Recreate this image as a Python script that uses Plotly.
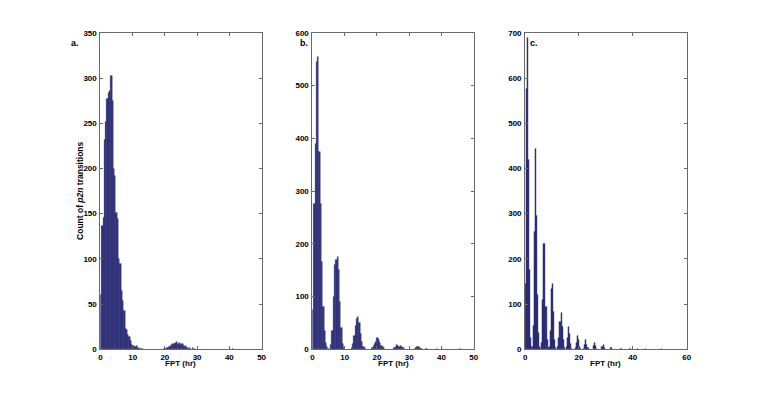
import plotly.graph_objects as go

# Bin width (hours) used by all three histograms
BIN_W = 0.4

# ---- Panel a: left bin edges (hr) and counts ----
a_edges = [0.0, 0.4, 0.8, 1.2, 1.6, 2.0, 2.4, 2.8, 3.2, 3.6, 4.0, 4.4, 4.8, 5.2, 5.6, 6.0,
           6.4, 6.8, 7.2, 7.6, 8.0, 8.4, 8.8, 9.2, 9.6, 10.0, 10.4, 10.8, 11.2, 11.6, 12.0,
           12.4, 12.8,
           19.6, 20.0, 20.4, 20.8, 21.2, 21.6, 22.0, 22.4, 22.8, 23.2, 23.6, 24.0, 24.4,
           24.8, 25.2, 25.6, 26.0, 26.4, 26.8, 27.2, 27.6, 28.4, 29.2, 40.8]
a_counts = [60, 137, 145, 232, 252, 277, 284, 286, 302, 275, 200, 192, 151, 144, 100, 94,
            65, 54, 43, 23, 22, 16, 14, 9, 5, 4, 3, 3, 4, 2, 1,
            1, 1,
            1, 1, 2, 2, 3, 4, 5, 6, 6, 7, 8, 6, 7,
            5, 6, 4, 3, 4, 2, 1, 2, 2, 1, 1]

# ---- Panel b ----
b_edges = [0.0, 0.4, 0.8, 1.2, 1.6, 2.0, 2.4, 2.8, 3.2, 3.6, 4.0, 4.4, 4.8,
           5.6, 6.0, 6.4, 6.8, 7.2, 7.6, 8.0, 8.4, 8.8, 9.2, 9.6,
           12.0, 12.4, 12.8, 13.2, 13.6, 14.0, 14.4, 14.8, 15.2, 15.6, 16.0,
           18.4, 18.8, 19.2, 19.6, 20.0, 20.4, 20.8, 21.2, 21.6, 22.0,
           25.2, 25.6, 26.0, 26.4, 26.8, 27.2, 27.6, 28.0,
           31.6, 32.0, 32.4, 32.8, 33.2, 33.6, 35.2, 38.4, 40.0, 45.6]
b_counts = [75, 275, 390, 545, 555, 375, 275, 165, 80, 35, 12, 4, 1,
            8, 35, 100, 160, 170, 176, 150, 90, 40, 10, 2,
            2, 10, 25, 45, 58, 62, 50, 30, 14, 5, 2,
            2, 6, 10, 15, 22, 18, 12, 7, 4, 2,
            2, 5, 8, 6, 4, 7, 4, 2,
            1, 3, 5, 4, 2, 1, 1, 1, 1, 1]

# ---- Panel c ----
c_edges = [0.0, 0.4, 0.8, 1.2, 1.6, 2.0, 2.4, 2.8, 3.2, 3.6, 4.0, 4.4, 4.8, 5.2,
           5.6, 6.0, 6.4, 6.8, 7.2, 7.6, 8.0, 8.4,
           8.8, 9.2, 9.6, 10.0, 10.4, 10.8, 11.2,
           12.0, 12.4, 12.8, 13.2, 13.6, 14.0, 14.4,
           15.2, 15.6, 16.0, 16.4, 16.8, 17.2,
           18.4, 18.8, 19.2, 19.6, 20.0, 20.4,
           21.6, 22.0, 22.4, 22.8, 23.2,
           25.2, 25.6, 26.0, 26.4,
           28.4, 28.8, 29.2,
           31.6, 32.0, 35.2, 35.6, 38.8, 41.6, 44.4, 50.4]
c_counts = [144, 577, 690, 420, 175, 25, 5, 52, 260, 444, 296, 121, 36, 5,
            2, 15, 110, 233, 233, 95, 20, 3,
            5, 41, 133, 144, 82, 20, 4,
            5, 25, 61, 81, 50, 20, 4,
            5, 25, 50, 35, 12, 2,
            3, 15, 30, 20, 6, 1,
            2, 10, 20, 10, 3,
            8, 15, 8, 2,
            5, 9, 4,
            4, 3, 2, 2, 2, 1, 2, 1]

x_ticks = [[0, 10, 20, 30, 40, 50], [0, 10, 20, 30, 40, 50], [0, 20, 40, 60]]
x_ranges = [[0, 50], [0, 50], [0, 60]]
y_ranges = [[0, 350], [0, 600], [0, 700]]
y_dticks = [50, 100, 100]
panel_labels = ["a.", "b.", "c."]

W, H = 763, 397
FONT = "Liberation Sans, Arial, Helvetica, sans-serif"
FILL = "#33378a"
EDGE = "#1b1c55"
AXC = "#6a6a6a"

# axis pixel boxes (left, right) and (top, bottom)
x_px = [(99.3, 262.0), (313.3, 476.0), (528.0, 691.0)]
y_px = (29.5, 353.3)

fig = go.Figure()
data = [(a_edges, a_counts), (b_edges, b_counts), (c_edges, c_counts)]
for i, (edges, counts) in enumerate(data):
    n = i + 1
    xa = "x" if n == 1 else f"x{n}"
    ya = "y" if n == 1 else f"y{n}"
    fig.add_trace(go.Bar(
        x=[e + BIN_W / 2 for e in edges], y=counts, width=BIN_W,
        marker=dict(color=FILL, line=dict(color=EDGE, width=0.4)),
        xaxis=xa, yaxis=ya, showlegend=False, hoverinfo="x+y"))

layout = dict(width=W, height=H, autosize=False,
              margin=dict(l=0, r=0, t=0, b=0),
              paper_bgcolor="white", plot_bgcolor="white",
              bargap=0, font=dict(family=FONT, size=8, color="black"))
ydom = [1 - y_px[1] / H, 1 - y_px[0] / H]
annotations = []
for i in range(3):
    n = i + 1
    xk = "xaxis" if n == 1 else f"xaxis{n}"
    yk = "yaxis" if n == 1 else f"yaxis{n}"
    xdom = [x_px[i][0] / W, x_px[i][1] / W]
    common = dict(showline=True, linecolor=AXC, linewidth=1, mirror="allticks",
                  ticks="inside", ticklen=3, tickcolor=AXC, tickwidth=1,
                  showgrid=False, zeroline=False, fixedrange=True,
                  tickfont=dict(family=FONT, size=8, color="black", weight="bold"))
    layout[xk] = dict(domain=xdom, range=x_ranges[i], tickvals=x_ticks[i],
                      anchor="y" if n == 1 else f"y{n}", ticklabelstandoff=0, **common)
    layout[yk] = dict(domain=ydom, range=y_ranges[i], dtick=y_dticks[i], tick0=0,
                      anchor="x" if n == 1 else f"x{n}", ticklabelstandoff=1, **common)
    annotations.append(dict(text="<b>FPT (hr)</b>", xref="paper", yref="paper",
                            x=(xdom[0] + xdom[1]) / 2, y=1 - 368 / H,
                            showarrow=False, font=dict(family=FONT, size=8),
                            xanchor="center", yanchor="middle"))

label_px = [(74, 40), (305, 40), (537, 40)]
for lab, (lx, ly) in zip(panel_labels, label_px):
    annotations.append(dict(text=f"<b>{lab}</b>", xref="paper", yref="paper",
                            x=lx / W, y=1 - ly / H, showarrow=False,
                            font=dict(family=FONT, size=9),
                            xanchor="center", yanchor="middle"))

annotations.append(dict(text="<b>Count of <i>p2n</i> transitions</b>", xref="paper",
                        yref="paper", x=78 / W, y=1 - 191 / H, textangle=-90,
                        showarrow=False, font=dict(family=FONT, size=8.5),
                        xanchor="center", yanchor="middle"))
layout["annotations"] = annotations
fig.update_layout(**layout)

reset_page = (
    "var d=document.documentElement,b=document.body;"
    "d.style.margin='0';d.style.padding='0';d.style.overflow='hidden';d.style.height='397px';"
    "b.style.margin='0';b.style.padding='0';b.style.overflow='hidden';b.style.height='397px';"
)
fig.write_html("out.html", post_script=reset_page,
               config={"displayModeBar": False, "responsive": False})
